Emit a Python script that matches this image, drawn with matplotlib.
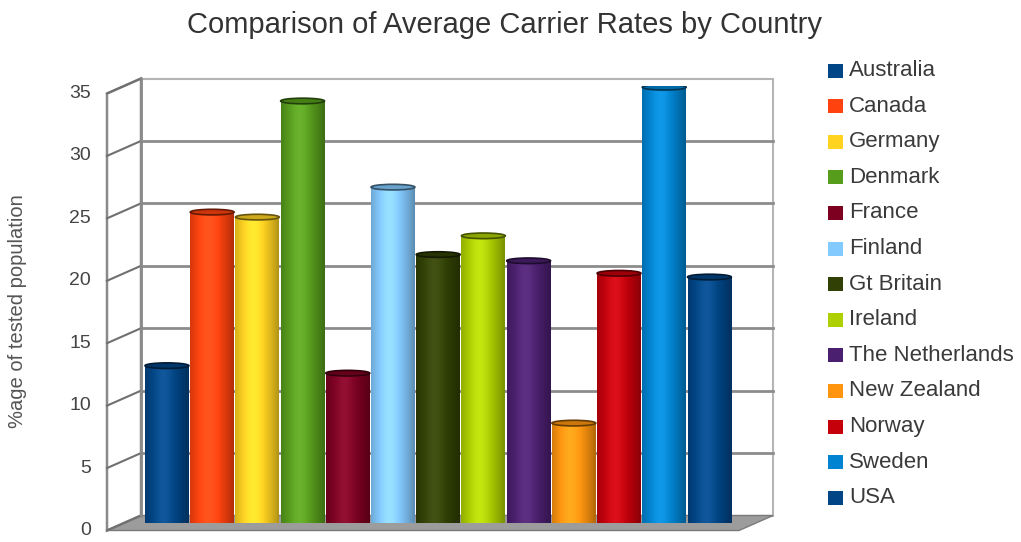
import matplotlib
matplotlib.use('Agg')
import matplotlib.pyplot as plt
import numpy as np
from matplotlib.patches import Rectangle, Polygon, Ellipse
from matplotlib.colors import to_rgb
import matplotlib.transforms as mtransforms

countries = ['Australia', 'Canada', 'Germany', 'Denmark', 'France', 'Finland',
             'Gt Britain', 'Ireland', 'The Netherlands', 'New Zealand', 'Norway',
             'Sweden', 'USA']
rates = [12.6, 24.9, 24.5, 33.8, 12.0, 26.9, 21.5, 23.0, 21.0, 8.0, 20.0, 34.9, 19.7]
colors = ['#004586', '#ff420e', '#ffd320', '#579d1c', '#7e0021', '#83caff',
          '#314004', '#aecf00', '#4b1f6f', '#ff950e', '#c5000b', '#0084d1', '#004586']
yticks = [0, 5, 10, 15, 20, 25, 30, 35]
title = 'Comparison of Average Carrier Rates by Country'
ylabel = '%age of tested population'

plt.rcParams['font.family'] = ['Liberation Sans', 'DejaVu Sans']

W, H = 1021, 542
fig = plt.figure(figsize=(W / 100, H / 100), dpi=100)
fig.patch.set_facecolor('white')
ax = fig.add_axes([124 / W, (H - 523) / H, 632 / W, (523 - 86) / H])
ax.set_zorder(5)
x0, x1 = -0.95, 13.03
ymax = 35
ax.set_xlim(x0, x1)
ax.set_ylim(0, ymax)
ax.axis('off')

DX, DY = 17, 7.5
ident = mtransforms.IdentityTransform()


def P(x, y, d):
    p = ax.transData.transform((x, y))
    return (p[0] + d * DX, p[1] + d * DY)


# back wall
bw = Polygon([P(x0, 0, 1), P(x1, 0, 1), P(x1, ymax, 1), P(x0, ymax, 1)],
             closed=True, transform=ident, facecolor='white',
             edgecolor='#b5b5b5', lw=1.5, zorder=0.5)
fig.add_artist(bw)

# floor
floor = Polygon([P(x0, 0, -1), P(x1, 0, -1), P(x1, 0, 1), P(x0, 0, 1)],
                closed=True, transform=ident, facecolor='#9c9c9c',
                edgecolor='#7a7a7a', lw=1, zorder=1)
fig.add_artist(floor)

# left wall
lw_poly = Polygon([P(x0, 0, -1), P(x0, ymax, -1), P(x0, ymax, 1), P(x0, 0, 1)],
                  closed=True, transform=ident, facecolor='white',
                  edgecolor='#8a8a8a', lw=1.8, zorder=1)
fig.add_artist(lw_poly)

for v in yticks:
    if 0 < v < ymax:
        a, b = P(x0, v, 1), P(x1, v, 1)
        fig.add_artist(plt.Line2D([a[0], b[0]], [a[1], b[1]], transform=ident,
                                  color='#8c8c8c', lw=2, zorder=0.8))
    a, b = P(x0, v, -1), P(x0, v, 1)
    fig.add_artist(plt.Line2D([a[0], b[0]], [a[1], b[1]], transform=ident,
                              color='#707070', lw=1.5, zorder=1.2))
    tp = P(x0, v, -1)
    fig.text(tp[0] - 16, tp[1], str(v), transform=ident, ha='right', va='center',
             fontsize=14, color='#444444')

# back wall left vertical edge
a, b = P(x0, 0, 1), P(x0, ymax, 1)
fig.add_artist(plt.Line2D([a[0], b[0]], [a[1], b[1]], transform=ident,
                          color='#8a8a8a', lw=2, zorder=1.3))

# bars (cylinder-like shading)
bw_data = 0.97
t = np.linspace(0, 1, 80)
k = np.cos((t - 0.42) * np.pi * 0.9)
for i, (v, c) in enumerate(zip(rates, colors)):
    base = np.array(to_rgb(c))
    shade = (0.72 + 0.32 * k)[:, None] * base[None, :]
    shade = shade + (0.06 * np.clip(k, 0, 1) ** 6)[:, None]
    shade = np.clip(shade, 0, 1)
    img = shade[None, :, :]
    xl, xr = i - bw_data / 2, i + bw_data / 2
    rect = Rectangle((xl, 0), bw_data, v, facecolor='none', edgecolor='none',
                     zorder=3 + i * 0.01)
    ax.add_patch(rect)
    im = ax.imshow(img, extent=(xl, xr, 0, v), aspect='auto',
                   interpolation='bilinear', zorder=3 + i * 0.01)
    im.set_clip_path(rect)
    cap = Ellipse((i, v), bw_data, 0.45, facecolor=np.clip(base * 0.8, 0, 1),
                  edgecolor=np.clip(base * 0.4, 0, 1), lw=1.2,
                  zorder=3.005 + i * 0.01)
    ax.add_patch(cap)

ax.set_xlim(x0, x1)
ax.set_ylim(0, ymax)

# axis label and title
fig.text(18 / W, 1 - 311 / H, ylabel, rotation=90, ha='center', va='center',
         fontsize=14.5, color='#555555')
fig.text(504 / W, 1 - 25 / H, title, ha='center', va='center', fontsize=21,
         color='#333333')

# legend
for i, (name, c) in enumerate(zip(countries, colors)):
    yc = 70.5 + i * 35.6
    fig.add_artist(Rectangle((828 / W, 1 - (yc + 7) / H), 15 / W, 14 / H,
                             transform=fig.transFigure, facecolor=c,
                             edgecolor='none'))
    fig.text(849 / W, 1 - yc / H, name, ha='left', va='center', fontsize=16,
             color='#3a3a3a')

fig.savefig('out.png', dpi=100)
